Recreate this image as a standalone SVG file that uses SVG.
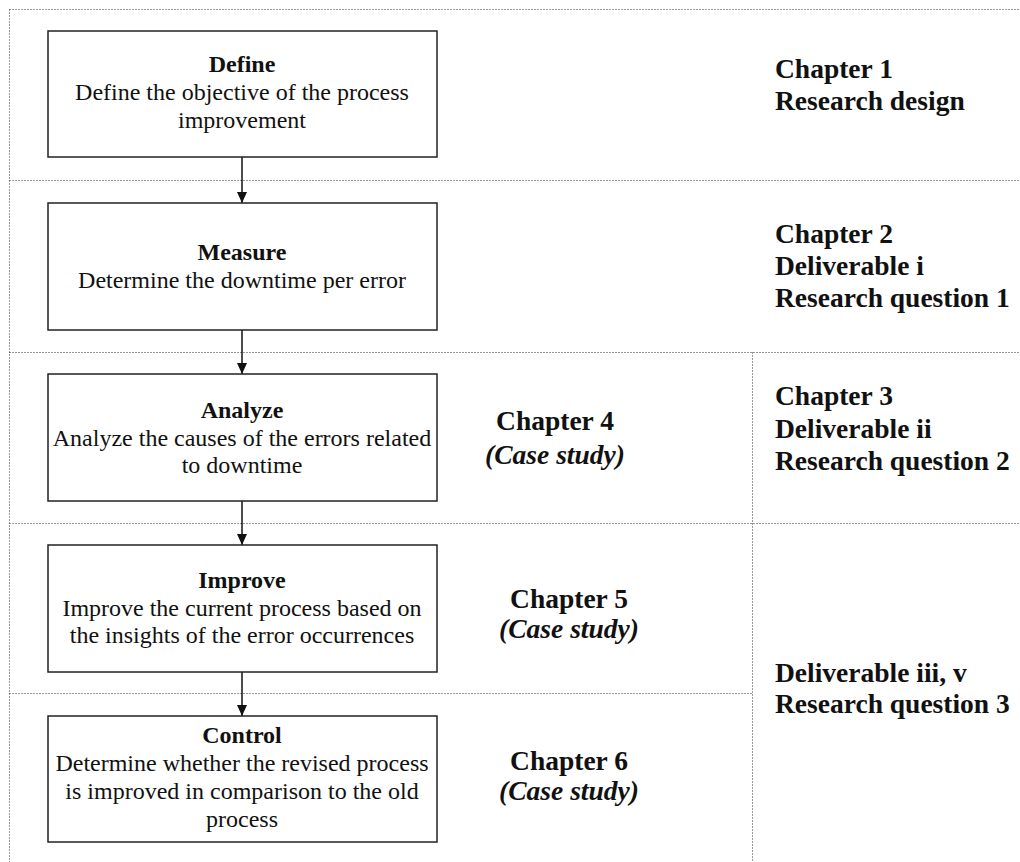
<svg xmlns="http://www.w3.org/2000/svg" width="1020" height="862" viewBox="0 0 1020 862">
  <style>
    .frame { fill: none; stroke: #333; stroke-width: 1; stroke-dasharray: 1 2; }
    .box { fill: #fff; stroke: #222; stroke-width: 1.5; }
    .title { font-family: "Liberation Serif", serif; font-size: 24px; font-weight: bold; fill: #111; text-anchor: middle; }
    .desc { font-family: "Liberation Serif", serif; font-size: 24px; fill: #111; text-anchor: middle; }
    .label { font-family: "Liberation Serif", serif; font-size: 27.5px; font-weight: bold; fill: #111; }
    .mid { text-anchor: middle; }
    .case { font-style: italic; }
    .edge { stroke: #111; stroke-width: 1.5; fill: none; marker-end: url(#arrow); }
  </style>
  <defs>
    <marker id="arrow" markerWidth="12" markerHeight="12" refX="11" refY="6" orient="auto" markerUnits="userSpaceOnUse">
      <path d="M0,1 L11,6 L0,11 Z" fill="#111"/>
    </marker>
  </defs>
  <rect width="1020" height="862" fill="#fff"/>

  <!-- dotted section frame (half-pixel offsets keep the dots crisp) -->
  <g id="frame">
    <line class="frame" x1="9.5" y1="9.5" x2="1020" y2="9.5"/>
    <line class="frame" x1="9.5" y1="9.5" x2="9.5" y2="862"/>
    <line class="frame" x1="9.5" y1="180.5" x2="1020" y2="180.5"/>
    <line class="frame" x1="9.5" y1="352.5" x2="1020" y2="352.5"/>
    <line class="frame" x1="9.5" y1="523.5" x2="1020" y2="523.5"/>
    <line class="frame" x1="9.5" y1="693.5" x2="752.5" y2="693.5"/>
    <line class="frame" x1="752.5" y1="352.5" x2="752.5" y2="862"/>
  </g>

  <!-- connectors between the phases -->
  <g id="connectors">
    <line class="edge" x1="242" y1="157" x2="242" y2="203"/>
    <line class="edge" x1="242" y1="330" x2="242" y2="374"/>
    <line class="edge" x1="242" y1="501" x2="242" y2="545"/>
    <line class="edge" x1="242" y1="672" x2="242" y2="716"/>
  </g>

  <g id="define">
    <rect class="box" x="48" y="31" width="389" height="126"/>
    <text class="title" x="242" y="72">Define</text>
    <text class="desc" x="242" y="100">Define the objective of the process</text>
    <text class="desc" x="242" y="128">improvement</text>
  </g>

  <g id="measure">
    <rect class="box" x="48" y="203" width="389" height="127"/>
    <text class="title" x="242" y="260">Measure</text>
    <text class="desc" x="242" y="288">Determine the downtime per error</text>
  </g>

  <g id="analyze">
    <rect class="box" x="48" y="374" width="389" height="127"/>
    <text class="title" x="242" y="418">Analyze</text>
    <text class="desc" x="242" y="446">Analyze the causes of the errors related</text>
    <text class="desc" x="242" y="473">to downtime</text>
  </g>

  <g id="improve">
    <rect class="box" x="48" y="545" width="389" height="127"/>
    <text class="title" x="242" y="588">Improve</text>
    <text class="desc" x="242" y="616">Improve the current process based on</text>
    <text class="desc" x="242" y="643">the insights of the error occurrences</text>
  </g>

  <g id="control">
    <rect class="box" x="48" y="716" width="389" height="126"/>
    <text class="title" x="242" y="743">Control</text>
    <text class="desc" x="242" y="771">Determine whether the revised process</text>
    <text class="desc" x="242" y="799">is improved in comparison to the old</text>
    <text class="desc" x="242" y="827">process</text>
  </g>

  <!-- case study chapters -->
  <g id="chapter4">
    <text class="label mid" x="555" y="430">Chapter 4</text>
    <text class="label mid case" x="555" y="464">(Case study)</text>
  </g>
  <g id="chapter5">
    <text class="label mid" x="569" y="608">Chapter 5</text>
    <text class="label mid case" x="569" y="638">(Case study)</text>
  </g>
  <g id="chapter6">
    <text class="label mid" x="569" y="770">Chapter 6</text>
    <text class="label mid case" x="569" y="800">(Case study)</text>
  </g>

  <!-- research outline column -->
  <g id="chapter1">
    <text class="label" x="775" y="78">Chapter 1</text>
    <text class="label" x="775" y="110">Research design</text>
  </g>
  <g id="chapter2">
    <text class="label" x="775" y="243">Chapter 2</text>
    <text class="label" x="775" y="275">Deliverable i</text>
    <text class="label" x="775" y="307">Research question 1</text>
  </g>
  <g id="chapter3">
    <text class="label" x="775" y="405">Chapter 3</text>
    <text class="label" x="775" y="438">Deliverable ii</text>
    <text class="label" x="775" y="470">Research question 2</text>
  </g>
  <g id="deliverable3">
    <text class="label" x="775" y="682">Deliverable iii, v</text>
    <text class="label" x="775" y="713">Research question 3</text>
  </g>
</svg>
